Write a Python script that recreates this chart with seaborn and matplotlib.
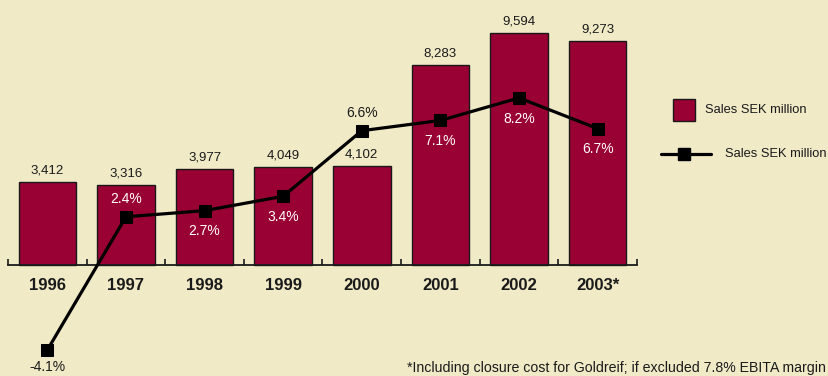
import numpy as np
import pandas as pd
import matplotlib
matplotlib.use("Agg")
import matplotlib.pyplot as plt
from matplotlib.patches import Rectangle
from matplotlib.lines import Line2D
import seaborn as sns

years = ["1996", "1997", "1998", "1999", "2000", "2001", "2002", "2003*"]
sales = [3412, 3316, 3977, 4049, 4102, 8283, 9594, 9273]
margin = [-4.1, 2.4, 2.7, 3.4, 6.6, 7.1, 8.2, 6.7]
margin_pos = ["below", "above", "below", "below", "above", "below", "below", "below"]
legend_labels = ["Sales SEK million", "Sales SEK million"]
footnote = "*Including closure cost for Goldreif; if excluded 7.8% EBITA margin"

BG = "#F0EAC7"
BAR = "#990033"
INK = "#1a1a1a"

sns.set_theme(style="white")
plt.rcParams["font.family"] = ["Liberation Sans", "DejaVu Sans"]

W, H = 829, 376
fig = plt.figure(figsize=(W / 100, H / 100), dpi=100)
fig.patch.set_facecolor(BG)

ax = fig.add_axes([8 / W, 0, 629 / W, 1])
ax.set_facecolor("none")

df = pd.DataFrame({"year": years, "sales": sales})
sns.barplot(data=df, x="year", y="sales", color=BAR, width=0.73,
            edgecolor=INK, linewidth=1.0, saturation=1, ax=ax)

# bar scale: baseline at pixel 265, 0.02418 px per unit
base_px = 265
ppu = 0.02418
ax.set_ylim(-(H - base_px) / ppu, base_px / ppu)
ax.set_xlim(-0.5, len(years) - 0.5)

for sp in ["top", "right", "left"]:
    ax.spines[sp].set_visible(False)
ax.spines["bottom"].set_position(("data", 0))
ax.spines["bottom"].set_linewidth(1.3)
ax.spines["bottom"].set_color(INK)
ax.set_yticks([])
ax.set_xlabel("")
ax.set_ylabel("")
ax.set_xticks(range(len(years)))
ax.set_xticklabels(years, fontsize=12, fontweight="bold", color=INK)
ax.tick_params(axis="x", which="major", bottom=True, length=0, pad=9)
ax.set_xticks(np.arange(-0.5, len(years), 1.0), minor=True)
ax.tick_params(axis="x", which="minor", bottom=True, direction="in",
               length=4, width=1.2, color=INK)

for i, v in enumerate(sales):
    ax.annotate(f"{v:,}", (i, v), xytext=(0, 4), textcoords="offset points",
                ha="center", va="bottom", fontsize=9.5, color=INK)

# line on twin axis: 0% at pixel 266, 20.5 px per %
ax2 = ax.twinx()
ax2.set_position(ax.get_position())
zero_px = 266
ppp = 20.5
ax2.set_ylim(-(H - zero_px) / ppp, zero_px / ppp)
sns.lineplot(x=np.arange(len(years)), y=margin, ax=ax2, color="black",
             linewidth=2.3, marker="s", markersize=9, markeredgecolor="black",
             markerfacecolor="black")
ax2.set_xlim(-0.5, len(years) - 0.5)
for sp in ax2.spines.values():
    sp.set_visible(False)
ax2.set_yticks([])
ax2.set_ylabel("")

for i, (m, pos) in enumerate(zip(margin, margin_pos)):
    label_px = zero_px - m * ppp + (-14 if pos == "above" else 16)
    bar_top_px = base_px - sales[i] * ppu
    col = "white" if (label_px > bar_top_px and label_px < base_px) else INK
    dy = 13 if pos == "above" else -15
    if m < 0:
        dy = -12.5
    ax2.annotate(f"{m:.1f}%", (i, m), xytext=(0, dy), textcoords="offset points",
                 ha="center", va="center", fontsize=10, color=col)

# legend drawn manually in pixel coordinates
def fx(px):
    return px / W

def fy(py):
    return 1 - py / H

fig.add_artist(Rectangle((fx(673), fy(121)), 22 / W, 22 / H,
                         transform=fig.transFigure, facecolor=BAR,
                         edgecolor=INK, linewidth=1.0))
fig.text(fx(705), fy(110), legend_labels[0], fontsize=9.3, va="center",
         ha="left", color=INK)
fig.add_artist(Line2D([fx(661), fx(711)], [fy(154), fy(154)],
                      transform=fig.transFigure, color="black", linewidth=2.3))
fig.add_artist(Line2D([fx(684)], [fy(154)], transform=fig.transFigure,
                      marker="s", markersize=9, color="black"))
fig.text(fx(725), fy(154), legend_labels[1], fontsize=9.3, va="center",
         ha="left", color=INK)

fig.text(fx(826), fy(368), footnote, fontsize=10.2, ha="right", va="center",
         color=INK)

fig.savefig("out.png", dpi=100, facecolor=BG)
